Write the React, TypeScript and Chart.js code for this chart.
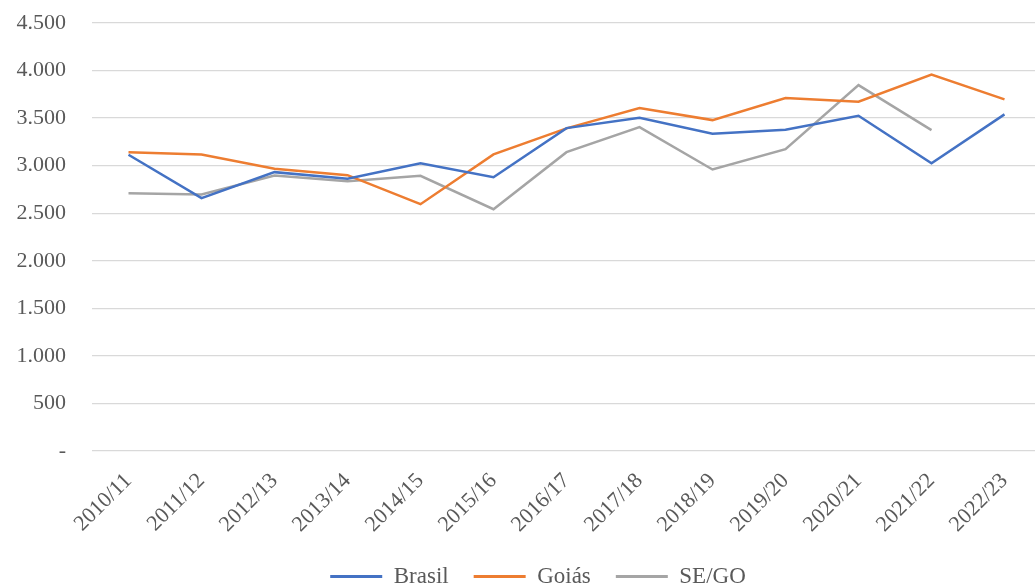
import React, { useEffect, useRef } from "react";
import { Chart, registerables } from "chart.js";

Chart.register(...registerables);

const categories = [
  "2010/11", "2011/12", "2012/13", "2013/14", "2014/15", "2015/16", "2016/17",
  "2017/18", "2018/19", "2019/20", "2020/21", "2021/22", "2022/23",
];
const brasil = [3115, 2658, 2932, 2862, 3026, 2879, 3395, 3504, 3336, 3378, 3525, 3026, 3539];
const goias = [3142, 3118, 2967, 2900, 2595, 3118, 3392, 3605, 3479, 3711, 3672, 3957, 3697];
const segoValues: (number | null)[] = [2711, 2697, 2897, 2837, 2894, 2542, 3142, 3405, 2960, 3174, 3847, 3374, null];
const seriesNames = ["Brasil", "Goiás", "SE/GO"];
const seriesColors = ["#4472C4", "#ED7D31", "#A5A5A5"];

const FONT = "'Liberation Serif', 'Times New Roman', serif";

function fmt(v: number): string {
  if (v === 0) return "-";
  return String(Math.round(v)).replace(/\B(?=(\d{3})+(?!\d))/g, ".");
}

export default function App() {
  const ref = useRef<HTMLCanvasElement | null>(null);
  useEffect(() => {
    document.body.style.margin = "0";
    const ctx = ref.current!.getContext("2d")!;
    const data = [brasil, goias, segoValues];
    const chart = new Chart(ctx, {
      type: "line",
      data: {
        labels: categories,
        datasets: seriesNames.map((n, i) => ({
          label: n,
          data: data[i],
          borderColor: seriesColors[i],
          backgroundColor: seriesColors[i],
          borderWidth: 2.5,
          pointRadius: 0,
          tension: 0,
          spanGaps: false,
        })),
      },
      options: {
        responsive: false,
        animation: false,
        layout: { padding: { left: 35, top: 23, right: 1, bottom: -10 } },
        plugins: {
          tooltip: { enabled: false },
          legend: {
            position: "bottom",
            labels: {
              font: { family: FONT, size: 23 },
              color: "#595959",
              boxWidth: 52,
              boxHeight: 3,
              padding: 25,
              generateLabels: (c: any) =>
                c.data.datasets.map((d: any, i: number) => ({
                  text: d.label,
                  fillStyle: d.borderColor,
                  strokeStyle: d.borderColor,
                  lineWidth: 0,
                  fontColor: "#595959",
                  datasetIndex: i,
                  hidden: false,
                })),
            },
          },
        },
        scales: {
          x: {
            offset: true,
            grid: { display: false, drawTicks: false },
            border: { display: false },
            ticks: {
              font: { family: FONT, size: 22 },
              color: "#595959",
              maxRotation: 45,
              minRotation: 45,
              padding: 17,
              autoSkip: false,
            },
            afterFit: (s: any) => { s.height = 89; },
          },
          y: {
            min: 0,
            max: 4500,
            ticks: {
              stepSize: 500,
              font: { family: FONT, size: 22 },
              color: "#595959",
              padding: 26,
              callback: (v: any) => fmt(Number(v)),
            },
            grid: { color: "#D9D9D9", lineWidth: 1.3, drawTicks: false },
            border: { display: false },
            afterFit: (s: any) => {
              s.width = 57;
              s.paddingTop = 0;
              s.paddingBottom = 0;
              s._computeLabelArea = () => undefined;
            },
          },
        },
      },
    });
    return () => chart.destroy();
  }, []);
  return (
    <div style={{ width: 1035, height: 588, overflow: "hidden", position: "relative" }}>
      <canvas ref={ref} width={1042} height={588} style={{ display: "block" }} />
    </div>
  );
}
